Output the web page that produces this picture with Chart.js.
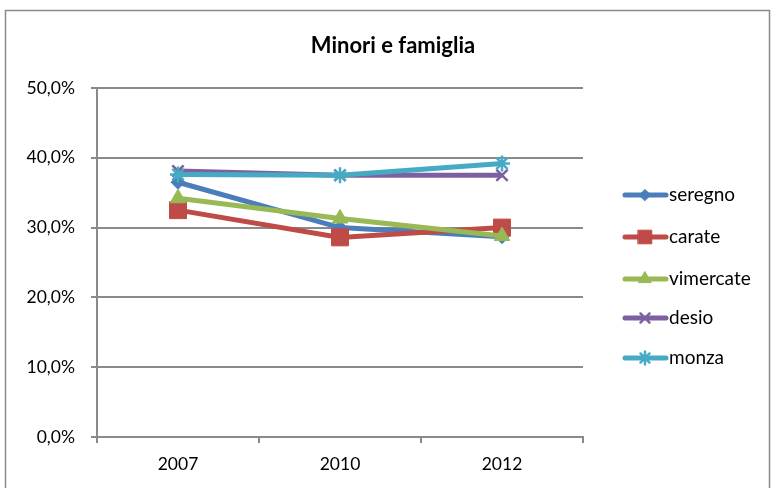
<!DOCTYPE html>
<html>
<head>
<meta charset="utf-8">
<script src="https://cdn.jsdelivr.net/npm/chart.js@4"></script>
<style>
  html, body { margin: 0; padding: 0; background: #fff; }
  #wrap { width: 774px; height: 488px; }
</style>
</head>
<body>
<div id="wrap"><canvas id="chart" width="774" height="488"></canvas></div>
<script>
const years = ['2007', '2010', '2012'];
const seregno = [36.5, 30.0, 28.7];
const carate = [32.5, 28.6, 30.0];
const vimercate = [34.2, 31.3, 28.8];
const desio = [38.1, 37.5, 37.5];
const monza = [37.6, 37.5, 39.2];
const yTicks = [0, 10, 20, 30, 40, 50];
const chartTitle = 'Minori e famiglia';

const FONT = 'Lato, "Open Sans", sans-serif';

// cornice esterna e titolo centrato sul riquadro
const frame = {
  id: 'frame',
  beforeDraw: (chart) => {
    const ctx = chart.ctx;
    ctx.save();
    ctx.fillStyle = '#fff';
    ctx.fillRect(0, 0, chart.width, chart.height);
    ctx.strokeStyle = '#8a8a8a';
    ctx.lineWidth = 1.5;
    ctx.strokeRect(5.5, 10.5, 764, 500);
    ctx.fillStyle = '#000';
    ctx.font = 'bold 22px ' + FONT;
    ctx.textAlign = 'center';
    ctx.textBaseline = 'middle';
    ctx.fillText(chartTitle, 393, 46);
    ctx.restore();
  }
};

// legenda stile Excel: linea con marcatore
const sideLegend = {
  id: 'sideLegend',
  afterDraw: (chart) => {
    const ctx = chart.ctx;
    const ys = [195, 237, 279, 318, 358];
    ctx.save();
    chart.data.datasets.forEach((ds, i) => {
      const y = ys[i];
      ctx.strokeStyle = ds.borderColor;
      ctx.fillStyle = ds.borderColor;
      ctx.lineWidth = 5;
      ctx.lineCap = 'round';
      ctx.beginPath();
      ctx.moveTo(625, y);
      ctx.lineTo(666, y);
      ctx.stroke();
      ctx.lineWidth = ds.pointBorderWidth;
      Chart.helpers.drawPoint(ctx, {
        pointStyle: ds.pointStyle,
        radius: ds.pointRadius * 0.8,
        borderWidth: ds.pointBorderWidth
      }, 645, y);
      ctx.fillStyle = '#000';
      ctx.font = '19px ' + FONT;
      ctx.textAlign = 'left';
      ctx.textBaseline = 'middle';
      ctx.fillText(ds.label, 669, y);
    });
    ctx.restore();
  }
};

// le serie successive vanno sopra, come in Excel
function series(label, data, color, style, radius, order) {
  return {
    label: label,
    data: data,
    order: order,
    borderColor: color,
    backgroundColor: color,
    borderWidth: 5,
    pointStyle: style,
    pointRadius: radius,
    pointHoverRadius: radius,
    pointBorderColor: color,
    pointBackgroundColor: color,
    pointBorderWidth: (style === 'crossRot' || style === 'star') ? 2.5 : 1,
    tension: 0
  };
}

new Chart(document.getElementById('chart'), {
  type: 'line',
  data: {
    labels: years,
    datasets: [
      series('seregno', seregno, '#4a7ebb', 'rectRot', 7, 5),
      series('carate', carate, '#be4b48', 'rect', 12, 4),
      series('vimercate', vimercate, '#98b954', 'triangle', 9, 3),
      series('desio', desio, '#7d60a0', 'crossRot', 8, 2),
      series('monza', monza, '#46aac5', 'star', 8, 1)
    ]
  },
  options: {
    responsive: false,
    animation: false,
    layout: { padding: { left: 0, right: 191, top: 88, bottom: 0 } },
    plugins: {
      legend: { display: false },
      tooltip: { enabled: false }
    },
    scales: {
      x: {
        offset: true,
        grid: {
          display: true,
          offset: true,
          drawOnChartArea: false,
          color: '#8a8a8a',
          lineWidth: 2,
          tickLength: 6
        },
        border: { color: '#8a8a8a', width: 2 },
        ticks: { color: '#000', font: { family: FONT, size: 17.5 }, padding: 11 },
        afterFit: (axis) => { axis.height = 51; }
      },
      y: {
        min: 0,
        max: 50,
        afterBuildTicks: (axis) => { axis.ticks = yTicks.map(v => ({ value: v })); },
        grid: { color: '#8a8a8a', lineWidth: 2, tickLength: 6 },
        border: { color: '#8a8a8a', width: 2 },
        ticks: {
          color: '#000',
          font: { family: FONT, size: 17.5 },
          padding: 16,
          callback: (v) => v.toFixed(1).replace('.', ',') + '%'
        },
        afterFit: (axis) => { axis.width = 97; }
      }
    }
  },
  plugins: [frame, sideLegend]
});
</script>
</body>
</html>
